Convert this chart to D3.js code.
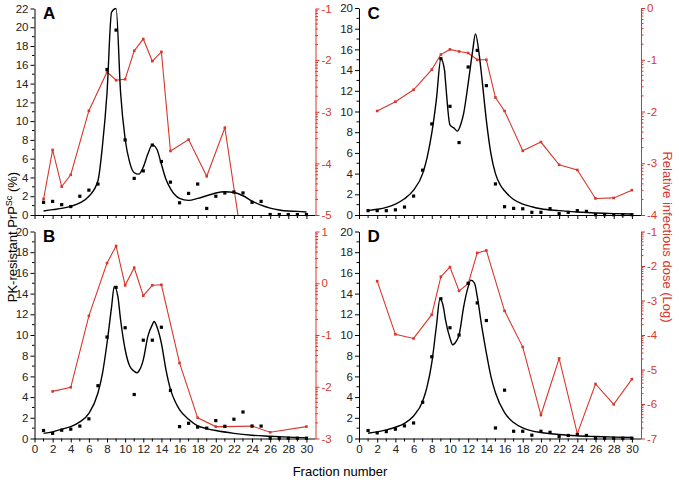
<!DOCTYPE html>
<html>
<head>
<meta charset="utf-8">
<script src="https://cdn.jsdelivr.net/npm/d3@7"></script>
<style>
  html, body { margin: 0; padding: 0; background: #fff; }
  svg { display: block; font-family: "Liberation Sans", Arial, sans-serif; }
</style>
</head>
<body>
<svg id="chart" width="679" height="482"></svg>
<script>
// ---------------- DATA ----------------
const fractions = d3.range(1, 31);

// Panel A
const pointsA = [1.35,1.45,1.1,0.9,2.0,2.65,3.3,15.5,19.7,8.0,3.9,4.7,7.45,5.7,3.5,1.3,2.3,3.3,0.7,2.0,2.35,2.45,2.35,1.35,1.45,0.05,0.05,0.05,0.05,0.05];
const curveA_x = [1,2,3,4,5,6,7,7.5,8,8.5,9,9.5,10,10.5,11,11.5,12,12.5,13,13.5,14,14.5,15,16,17,18,19,20,21,22,23,24,25,26,27,28,29,30];
const curveA_y = [0.42,0.57,0.7,0.92,1.28,2.0,3.65,7.4,13.0,21.6,22.0,13.0,8.1,5.6,4.5,4.35,5.1,6.5,7.47,7.0,5.4,3.8,2.8,1.77,1.56,1.77,2.05,2.34,2.48,2.4,2.05,1.49,1.06,0.74,0.53,0.42,0.39,0.32];
const redA_x = [1,2,3,4,6,8,9,10,11,12,13,14,15,17,19,21,23];
const redA_y = [-4.69,-3.74,-4.45,-4.22,-2.98,-2.23,-2.39,-2.37,-1.82,-1.59,-2.02,-1.84,-3.76,-3.54,-4.25,-3.31,-5.65];

// Panel B
const pointsB = [0.77,0.5,0.8,0.9,1.2,1.9,5.1,9.8,14.6,10.7,4.25,9.5,9.5,10.75,4.65,1.15,1.47,1.1,1.0,1.73,1.18,1.86,2.56,1.2,1.2,0.03,0.03,0.03,0.03,0.03];
const curveB_x = [1,2,3,4,5,6,7,7.5,8,8.5,8.8,9.2,9.5,10,10.5,11,11.3,11.5,12,12.5,13,13.2,13.5,14,14.5,15,15.5,16,17,18,19,20,22,24,26,28,30];
const curveB_y = [0.5,0.64,0.9,1.15,1.6,2.43,4.4,6.3,9.2,12.7,14.7,13.7,11.45,8.6,7.0,6.5,6.34,6.5,7.6,9.85,11.0,11.3,10.8,9.2,6.65,4.75,3.6,2.8,1.85,1.22,0.96,0.77,0.5,0.32,0.22,0.13,0.06];
const redB_x = [2,4,6,8,9,10,11,12,13,14,16,18,20,21,24,26,30];
const redB_y = [-2.09,-2.01,-0.63,0.39,0.72,-0.04,0.3,-0.24,-0.04,-0.03,-1.54,-2.6,-2.77,-2.77,-2.76,-2.88,-2.77];

// Panel C
const pointsC = [0.42,0.42,0.42,0.5,0.77,1.83,4.33,8.8,15.1,10.5,7.0,14.3,15.9,12.5,3.0,0.8,0.64,0.6,0.26,0.26,0.61,0.13,0.26,0.42,0.35,0.03,0.03,0.03,0.03,0.03];
const curveC_x = [1,2,3,4,5,6,7,7.5,8,8.5,9,9.4,9.5,10,10.5,10.8,11.2,11.5,12,12.5,12.8,13.2,13.5,14,14.5,15,15.5,16,17,18,19,20,22,24,26,28,30];
const curveC_y = [0.42,0.55,0.74,1.06,1.57,2.4,4.0,5.6,7.9,11.1,15.1,14.0,13.0,8.7,8.35,8.1,8.8,9.8,12.7,15.9,17.5,15.6,13.3,9.15,5.94,4.0,2.95,2.34,1.5,1.06,0.8,0.6,0.42,0.29,0.19,0.13,0.1];
const redC_x = [2,4,6,8,9,10,11,12,13,14,15,16,18,20,22,24,26,28,30];
const redC_y = [-1.99,-1.81,-1.58,-1.19,-0.9,-0.8,-0.84,-0.87,-1.0,-1.0,-1.73,-1.99,-2.76,-2.59,-3.03,-3.13,-3.68,-3.67,-3.52];

// Panel D
const pointsD = [0.77,0.54,0.67,0.9,1.22,1.5,3.5,7.9,13.5,10.7,10.0,15.0,13.1,11.4,1.02,4.67,0.7,0.7,0.32,0.7,0.6,0.19,0.29,0.38,0.29,0.03,0.03,0.03,0.03,0.03];
const curveD_x = [1,2,3,4,5,6,7,7.5,8,8.5,8.9,9.3,9.5,10,10.3,10.7,11,11.5,12,12.3,12.7,13,13.5,14,14.5,15,16,17,18,19,20,22,24,26,28,30];
const curveD_y = [0.51,0.64,0.83,1.09,1.47,2.18,3.6,5.06,7.3,10.8,13.5,12.6,11.5,9.7,9.06,9.4,10.0,12.7,14.65,15.3,15.0,13.7,10.8,8.26,6.0,4.42,2.5,1.54,1.02,0.74,0.58,0.38,0.26,0.19,0.13,0.1];
const redD_x = [2,4,6,8,9,10,11,12,13,14,16,18,20,22,24,26,28,30];
const redD_y = [-2.44,-3.98,-4.1,-3.41,-2.31,-2.03,-2.72,-2.51,-1.62,-1.55,-3.3,-4.35,-6.32,-4.68,-6.86,-5.42,-6.01,-5.28];

// axis tick settings
const xTicks = d3.range(0, 31, 2);
const leftMaxA = 22, leftMaxOthers = 20;
const rightDomA = [-5, -1], rightDomB = [-3, 1], rightDomC = [-4, 0], rightDomD = [-7, -1];

// ---------------- LAYOUT ----------------
const RED = "#d8372d";
const TXT = "#222";
const svg = d3.select("#chart");

const panels = [
  {id:"A", left:34.5, right:315.5, top:8.5, bottom:215, ymax:leftMaxA, rdom:rightDomA, pts:pointsA, cx:curveA_x, cy:curveA_y, rx:redA_x, ry:redA_y, xlabels:false},
  {id:"B", left:34.5, right:315.5, top:231.5, bottom:438.5, ymax:leftMaxOthers, rdom:rightDomB, pts:pointsB, cx:curveB_x, cy:curveB_y, rx:redB_x, ry:redB_y, xlabels:true},
  {id:"C", left:359, right:641, top:8, bottom:215, ymax:leftMaxOthers, rdom:rightDomC, pts:pointsC, cx:curveC_x, cy:curveC_y, rx:redC_x, ry:redC_y, xlabels:false},
  {id:"D", left:359, right:641, top:231.5, bottom:438.5, ymax:leftMaxOthers, rdom:rightDomD, pts:pointsD, cx:curveD_x, cy:curveD_y, rx:redD_x, ry:redD_y, xlabels:true}
];

panels.forEach((p, i) => {
  const x = d3.scaleLinear().domain([0, 31]).range([p.left, p.right]);
  const y = d3.scaleLinear().domain([0, p.ymax]).range([p.bottom, p.top]);
  const yr = d3.scaleLinear().domain(p.rdom).range([p.bottom, p.top]);
  const g = svg.append("g");

  const clipId = "clip" + p.id;
  svg.append("clipPath").attr("id", clipId).append("rect")
    .attr("x", p.left).attr("y", p.top - 1).attr("width", p.right - p.left).attr("height", p.bottom - p.top + 1);

  // X axis (bottom)
  const xAxis = d3.axisBottom(x).tickValues(xTicks).tickSize(4).tickSizeOuter(0)
    .tickFormat(p.xlabels ? d3.format("d") : () => "");
  const gx = g.append("g").attr("transform", `translate(0,${p.bottom})`).call(xAxis);
  gx.select(".domain").attr("stroke", "#000");
  gx.selectAll(".tick line").attr("stroke", "#000");
  gx.selectAll("text").attr("fill", TXT).attr("font-size", 11.5).attr("dy", "0.75em").attr("y", 6);
  const xMinor = d3.range(1, 31, 2);
  gx.selectAll(".minor").data(xMinor).enter().append("line")
    .attr("x1", d => x(d)).attr("x2", d => x(d)).attr("y1", 0).attr("y2", 3).attr("stroke", "#000");
  // extend domain to right axis
  gx.select(".domain").attr("d", `M${p.left},0.5H${p.right}`);

  // Left axis
  const yAxis = d3.axisLeft(y).tickValues(d3.range(0, p.ymax + 0.01, 2)).tickSize(4).tickSizeOuter(0);
  const gy = g.append("g").attr("transform", `translate(${p.left},0)`).call(yAxis);
  gy.select(".domain").attr("stroke", "#000");
  gy.selectAll(".tick line").attr("stroke", "#000");
  gy.selectAll("text").attr("fill", TXT).attr("font-size", 11.5).attr("x", -6);
  gy.selectAll(".minor").data(d3.range(1, p.ymax, 2)).enter().append("line")
    .attr("x1", 0).attr("x2", -2.5).attr("y1", d => y(d)).attr("y2", d => y(d)).attr("stroke", "#000");

  // Right axis (red)
  const rAxis = d3.axisRight(yr).tickValues(d3.range(p.rdom[0], p.rdom[1] + 0.01, 1)).tickSize(4).tickSizeOuter(0)
    .tickFormat(d => d < 0 ? "-" + Math.abs(d) : String(d));
  const gr = g.append("g").attr("transform", `translate(${p.right},0)`).call(rAxis);
  gr.select(".domain").attr("stroke", RED);
  gr.selectAll(".tick line").attr("stroke", RED);
  gr.selectAll("text").attr("fill", RED).attr("font-size", 11.5).attr("x", 6);
  const rMinor = [];
  for (let n = p.rdom[0]; n < p.rdom[1]; n++) {
    for (let k = 2; k <= 9; k++) rMinor.push(n + Math.log10(k));
  }
  gr.selectAll(".minor").data(rMinor).enter().append("line")
    .attr("x1", 0).attr("x2", 2.5).attr("y1", d => yr(d)).attr("y2", d => yr(d)).attr("stroke", RED);

  // Red line (right axis)
  const redData = p.rx.map((fx, j) => [fx, p.ry[j]]);
  const redLine = d3.line().x(d => x(d[0])).y(d => yr(d[1]));
  const plot = g.append("g").attr("clip-path", `url(#${clipId})`);
  plot.append("path").datum(redData).attr("d", redLine)
    .attr("fill", "none").attr("stroke", RED).attr("stroke-width", 1.1);
  plot.selectAll(".rm").data(redData.filter(d => d[1] >= p.rdom[0])).enter().append("rect")
    .attr("x", d => x(d[0]) - 1.3).attr("y", d => yr(d[1]) - 1.3).attr("width", 2.6).attr("height", 2.6)
    .attr("fill", RED);

  // Black fit curve
  const curveData = p.cx.map((fx, j) => [fx, p.cy[j]]);
  const line = d3.line().x(d => x(d[0])).y(d => y(d[1])).curve(d3.curveMonotoneX);
  plot.append("path").datum(curveData).attr("d", line)
    .attr("fill", "none").attr("stroke", "#000").attr("stroke-width", 1.4);

  // Black points
  g.selectAll(".pt").data(fractions.map((f, j) => [f, p.pts[j]])).enter().append("rect")
    .attr("x", d => x(d[0]) - 1.6).attr("y", d => y(d[1]) - 1.6).attr("width", 3.2).attr("height", 3.2)
    .attr("fill", "#000");

  // Panel letter
  g.append("text").attr("x", p.left + 8.5).attr("y", p.top + 10.5)
    .attr("font-size", 17).attr("font-weight", "bold").attr("fill", "#000").text(p.id);
});

// Axis titles
const leftTitle = svg.append("text")
  .attr("transform", "translate(17,237) rotate(-90)")
  .attr("text-anchor", "middle").attr("font-size", 13).attr("fill", "#000");
leftTitle.append("tspan").text("PK-resistant PrP");
leftTitle.append("tspan").attr("font-size", 9).attr("dy", -5).text("Sc");
leftTitle.append("tspan").attr("dy", 5).text(" (%)");

svg.append("text")
  .attr("transform", "translate(663,237) rotate(90)")
  .attr("text-anchor", "middle").attr("font-size", 13).attr("fill", RED)
  .text("Relative infectious dose (Log)");

svg.append("text").attr("x", 340).attr("y", 476).attr("text-anchor", "middle")
  .attr("font-size", 13).attr("fill", "#000").text("Fraction number");
</script>
</body>
</html>
